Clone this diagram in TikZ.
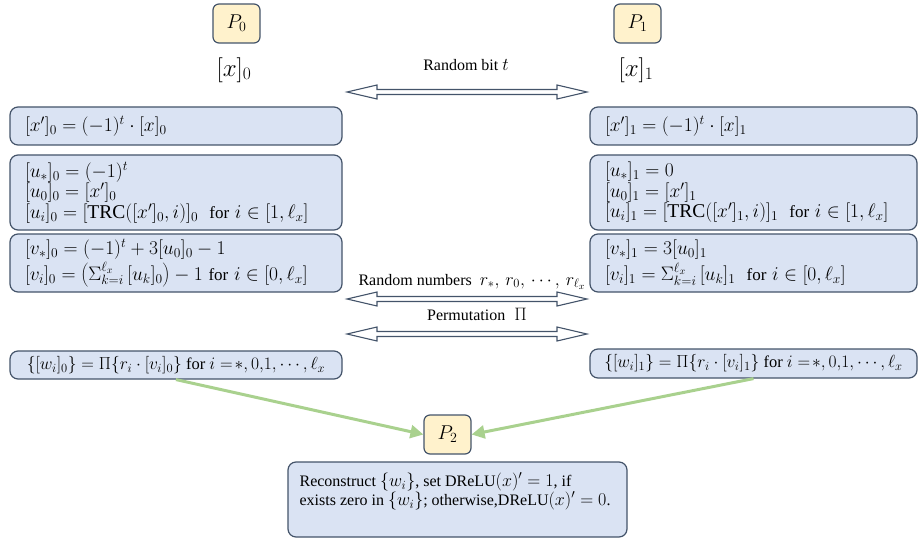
\RequirePackage{fix-cm}
\documentclass[tikz,border=0pt]{standalone}
\usepackage{fontspec}
\setmainfont{Liberation Serif}
\usetikzlibrary{arrows.meta}
\DeclareMathSizes{17}{19.5}{13.5}{10}
\DeclareMathSizes{16.5}{17.5}{12.5}{9.5}
\DeclareMathSizes{16}{18}{12.5}{9.5}
\definecolor{boxfill}{HTML}{DAE3F3}
\definecolor{boxline}{HTML}{44546A}
\definecolor{pfill}{HTML}{FFF2CC}
\definecolor{garrow}{HTML}{A9D18E}
\tikzset{
  bluebox/.style={draw=boxline, fill=boxfill, line width=1.2pt, rounded corners=8pt,
    inner xsep=15pt, inner ysep=0pt, align=left, font=\fontsize{17}{18.5}\selectfont},
  pbox/.style={draw=boxline, fill=pfill, line width=1.2pt, rounded corners=6pt,
    minimum width=47pt, minimum height=39pt, inner sep=0pt, font=\fontsize{20}{22}\selectfont},
  lbl/.style={inner sep=0pt, font=\fontsize{16}{18}\selectfont},
  share/.style={inner sep=0pt, font=\fontsize{25}{28}\selectfont},
  garr/.style={draw=garrow, line width=3pt, -{Triangle[length=13pt,width=13pt]}},
  dblarr/.pic={
    \draw[draw=boxline, fill=white, line width=1.1pt, line join=miter]
      (0,0) -- (30,-7) -- (30,-2.5) -- (210,-2.5) -- (210,-7) -- (240,0)
      -- (210,7) -- (210,2.5) -- (30,2.5) -- (30,7) -- cycle;
  }
}
\begin{document}
\begin{tikzpicture}[x=1pt,y=-1pt]
\useasboundingbox (0,0) rectangle (918,540);

% parties
\node[pbox] (P0) at (236.5,23.5) {$P_0$};
\node[pbox] (P1) at (637.5,23.5) {$P_1$};
\node[share] (x0) at (234,70) {$[x]_0$};
\node[share] (x1) at (636,70) {$[x]_1$};

% exchanged values
\node[lbl] (tbit) at (466,65) {Random bit $t$};
\pic at (347,92) {dblarr};
\node[lbl] (rnd) at (472,282) {Random numbers\ \ $r_*,\, r_0,\, \cdots,\, r_{\ell_x}$};
\pic at (347,299) {dblarr};
\node[lbl] (perm) at (477,314) {Permutation $\;\Pi$};
\pic at (347,334) {dblarr};

% left column
\node[bluebox, minimum width=332pt, minimum height=38pt, text width=302pt] (L1) at (176,126)
  {$[x']_0 = (-1)^t \cdot [x]_0$};
\node[bluebox, minimum width=332pt, minimum height=75pt, text width=302pt] (L2) at (176,192.5)
  {$[u_*]_0 = (-1)^t$\\
   $[u_0]_0 = [x']_0$\\
   $[u_i]_0 = [\mathrm{TRC}([x']_0, i)]_0$\ \ for $i \in [1, \ell_x]$};
\node[bluebox, minimum width=332pt, minimum height=58pt, text width=302pt] (L3) at (176,263)
  {$[v_*]_0 = (-1)^t + 3[u_0]_0 - 1$\\[2pt]
   $[v_i]_0 = \left(\Sigma_{k=i}^{\ell_x}\, [u_k]_0\right) - 1$ for\ $i \in [0, \ell_x]$};
\node[bluebox, inner xsep=4pt, minimum width=332pt, minimum height=28pt, font=\fontsize{16.5}{18}\selectfont] (w0) at (176,365)
  {$\{[w_i]_0\} = \Pi\{r_i \cdot [v_i]_0\}$\ for\ $i =\! *, 0{,}1, \cdots, \ell_x$};

% right column
\node[bluebox, minimum width=327pt, minimum height=38pt, text width=297pt] (R1) at (753.5,126)
  {$[x']_1 = (-1)^t \cdot [x]_1$};
\node[bluebox, minimum width=327pt, minimum height=75pt, text width=297pt] (R2) at (753.5,192.5)
  {$[u_*]_1 = 0$\\
   $[u_0]_1 = [x']_1$\\
   $[u_i]_1 = [\mathrm{TRC}([x']_1, i)]_1$\ \ for\ $i \in [1, \ell_x]$};
\node[bluebox, minimum width=327pt, minimum height=58pt, text width=297pt] (R3) at (753.5,263)
  {$[v_*]_1 = 3[u_0]_1$\\[2pt]
   $[v_i]_1 = \Sigma_{k=i}^{\ell_x}\, [u_k]_1$\ \ for\ $i \in [0, \ell_x]$};
\node[bluebox, inner xsep=4pt, minimum width=327pt, minimum height=29pt, font=\fontsize{16.5}{18}\selectfont] (w1) at (753.5,363.5)
  {$\{[w_i]_1\} = \Pi\{r_i \cdot [v_i]_1\}$\ for\ $i =\! *, 0{,}1, \cdots, \ell_x$};

% P2
\node[pbox] (P2) at (447.5,434.5) {$P_2$};
\draw[garr] (w0.south) -- (P2.west);
\draw[garr] (w1.south) -- (P2.east);

\node[bluebox, minimum width=339pt, minimum height=75pt] (rec) at (457.5,499.5) {};
\node[anchor=west, align=left, inner sep=0pt, font=\fontsize{16}{19}\selectfont] (rectext)
  at ([xshift=12pt,yshift=8pt]rec.west)
  {Reconstruct $\{w_i\}$, set DReLU$(x)' = 1$, if\\
   exists zero in $\{w_i\}$; otherwise,DReLU$(x)' = 0$.};
\end{tikzpicture}
\end{document}
